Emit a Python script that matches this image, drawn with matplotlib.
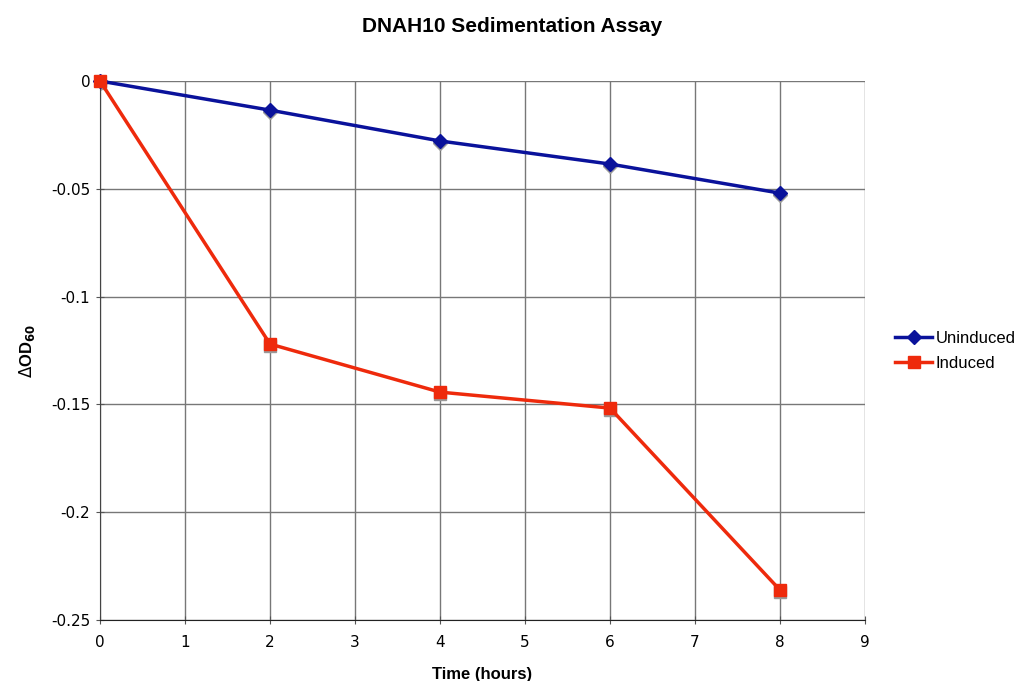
import matplotlib
matplotlib.use('Agg')
import matplotlib.pyplot as plt
import matplotlib.transforms as mtransforms

plt.rcParams['font.family'] = ['Liberation Sans', 'DejaVu Sans']

# datos
horas = [0, 2, 4, 6, 8]
no_inducido = [0, -0.0135, -0.0278, -0.0385, -0.052]
inducido = [0, -0.122, -0.1443, -0.1517, -0.2361]

fig = plt.figure(figsize=(10.24, 6.81), dpi=100)
ax = fig.add_axes([0.0977, 0.0896, 0.747, 0.7914])

#sombras de los marcadores
sombra = mtransforms.offset_copy(ax.transData, fig=fig, x=0, y=-2, units='dots')
ax.plot(horas, no_inducido, linestyle='none', marker='D', markersize=7, color='#999999', transform=sombra, zorder=2)
ax.plot(horas, inducido, linestyle='none', marker='s', markersize=9, color='#999999', transform=sombra, zorder=2)

ax.plot(horas, no_inducido, color='#0a129b', linewidth=2.5, marker='D', markersize=7, label='Uninduced', zorder=3, clip_on=False)
ax.plot(horas, inducido, color='#ee2a0c', linewidth=2.5, marker='s', markersize=9, label='Induced', zorder=3, clip_on=False)

ax.set_xlim(0, 9)
ax.set_ylim(-0.25, 0)
ax.set_xticks(range(0, 10))
ax.set_yticks([0, -0.05, -0.1, -0.15, -0.2, -0.25])
ax.set_yticklabels(['0', '-0.05', '-0.1', '-0.15', '-0.2', '-0.25'])
ax.tick_params(labelsize=11, length=6, direction='inout', color='#555555', pad=4)
ax.tick_params(axis='x', pad=8)
for etiqueta in ax.get_xticklabels() + ax.get_yticklabels():
    etiqueta.set_family('DejaVu Sans')
ax.grid(True, color='#777777', linewidth=1)
ax.set_axisbelow(True)
for lado in ['top', 'right']:
    ax.spines[lado].set_visible(False)
ax.spines['left'].set_color('#444444')
ax.spines['bottom'].set_color('#222222')

# titulo centrado en la figura
ax.set_title('DNAH10 Sedimentation Assay', fontsize=15, fontweight='bold', pad=35, x=0.5386)
ax.set_xlabel('Time (hours)', fontsize=12, fontweight='bold', labelpad=12)
ax.set_ylabel(r'$\Delta$OD$_{\mathbf{60}}$', fontsize=12, fontweight='bold', labelpad=10)

ax.legend(loc='center left', bbox_to_anchor=(1.02, 0.5), frameon=False, fontsize=12,
          handlelength=2.2, handletextpad=0.2, labelspacing=0.6)

fig.savefig('out.png', dpi=100)
